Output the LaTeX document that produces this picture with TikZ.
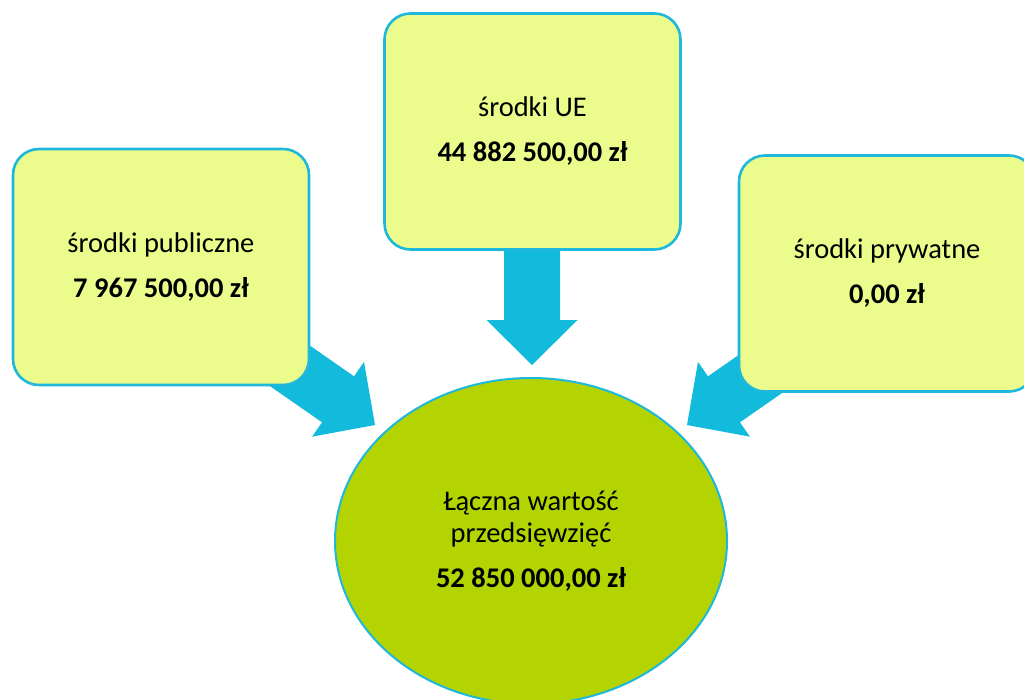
\documentclass[tikz,border=0pt]{standalone}
\usepackage{fontspec}
\setmainfont{Carlito}
\usetikzlibrary{calc,shapes.geometric}
\definecolor{boxfill}{RGB}{235,252,140}
\definecolor{cyanline}{RGB}{29,184,219}
\definecolor{arrowcol}{RGB}{18,186,220}
\definecolor{ellfill}{RGB}{179,212,0}
\tikzset{
  srcbox/.style={draw=cyanline, line width=2.6pt, fill=boxfill, rounded corners=26pt,
    minimum width=296pt, minimum height=236pt, align=center, inner sep=0pt,
    font=\fontsize{28.5}{33}\selectfont},
  totalell/.style={ellipse, draw=cyanline, line width=2pt, fill=ellfill,
    minimum width=392pt, minimum height=326pt, align=center, inner sep=0pt,
    font=\fontsize{28.5}{32}\selectfont},
  fatarrow/.style={fill=arrowcol, draw=none}
}
\newcommand{\fatarrowpath}[2]{%
  \fill[fatarrow]
    ($(#1)!28pt!90:(#2)$) --
    ($($(#2)!45pt!(#1)$)!28pt!-90:(#1)$) --
    ($($(#2)!45pt!(#1)$)!45.5pt!-90:(#1)$) --
    (#2) --
    ($($(#2)!45pt!(#1)$)!45.5pt!90:(#1)$) --
    ($($(#2)!45pt!(#1)$)!28pt!90:(#1)$) --
    ($(#1)!28pt!-90:(#2)$) -- cycle;}
\begin{document}
\begin{tikzpicture}[x=1pt,y=-1pt]
\useasboundingbox (0,0) rectangle (1024,700);
\clip (0,0) rectangle (1024,700);
% arrow anchors
\coordinate (aL) at (211,311);
\coordinate (tL) at (375,425);
\coordinate (aT) at (532,200);
\coordinate (tT) at (532,365);
\coordinate (aR) at (851,311);
\coordinate (tR) at (687,425);
\fatarrowpath{aL}{tL}
\fatarrowpath{aT}{tT}
\fatarrowpath{aR}{tR}
% boxes
\node[srcbox] (pub) at (161,267) {środki publiczne\\[12pt]\textbf{7 967 500,00 zł}};
\node[srcbox] (ue) at (532.5,131.5) {środki UE\\[12pt]\textbf{44 882 500,00 zł}};
\node[srcbox] (priv) at (887,273.5) {środki prywatne\\[12pt]\textbf{0,00 zł}};
\node[totalell] (total) at (531,541) {Łączna wartość\\przedsięwzięć\\[13pt]\textbf{52 850 000,00 zł}};
\end{tikzpicture}
\end{document}
